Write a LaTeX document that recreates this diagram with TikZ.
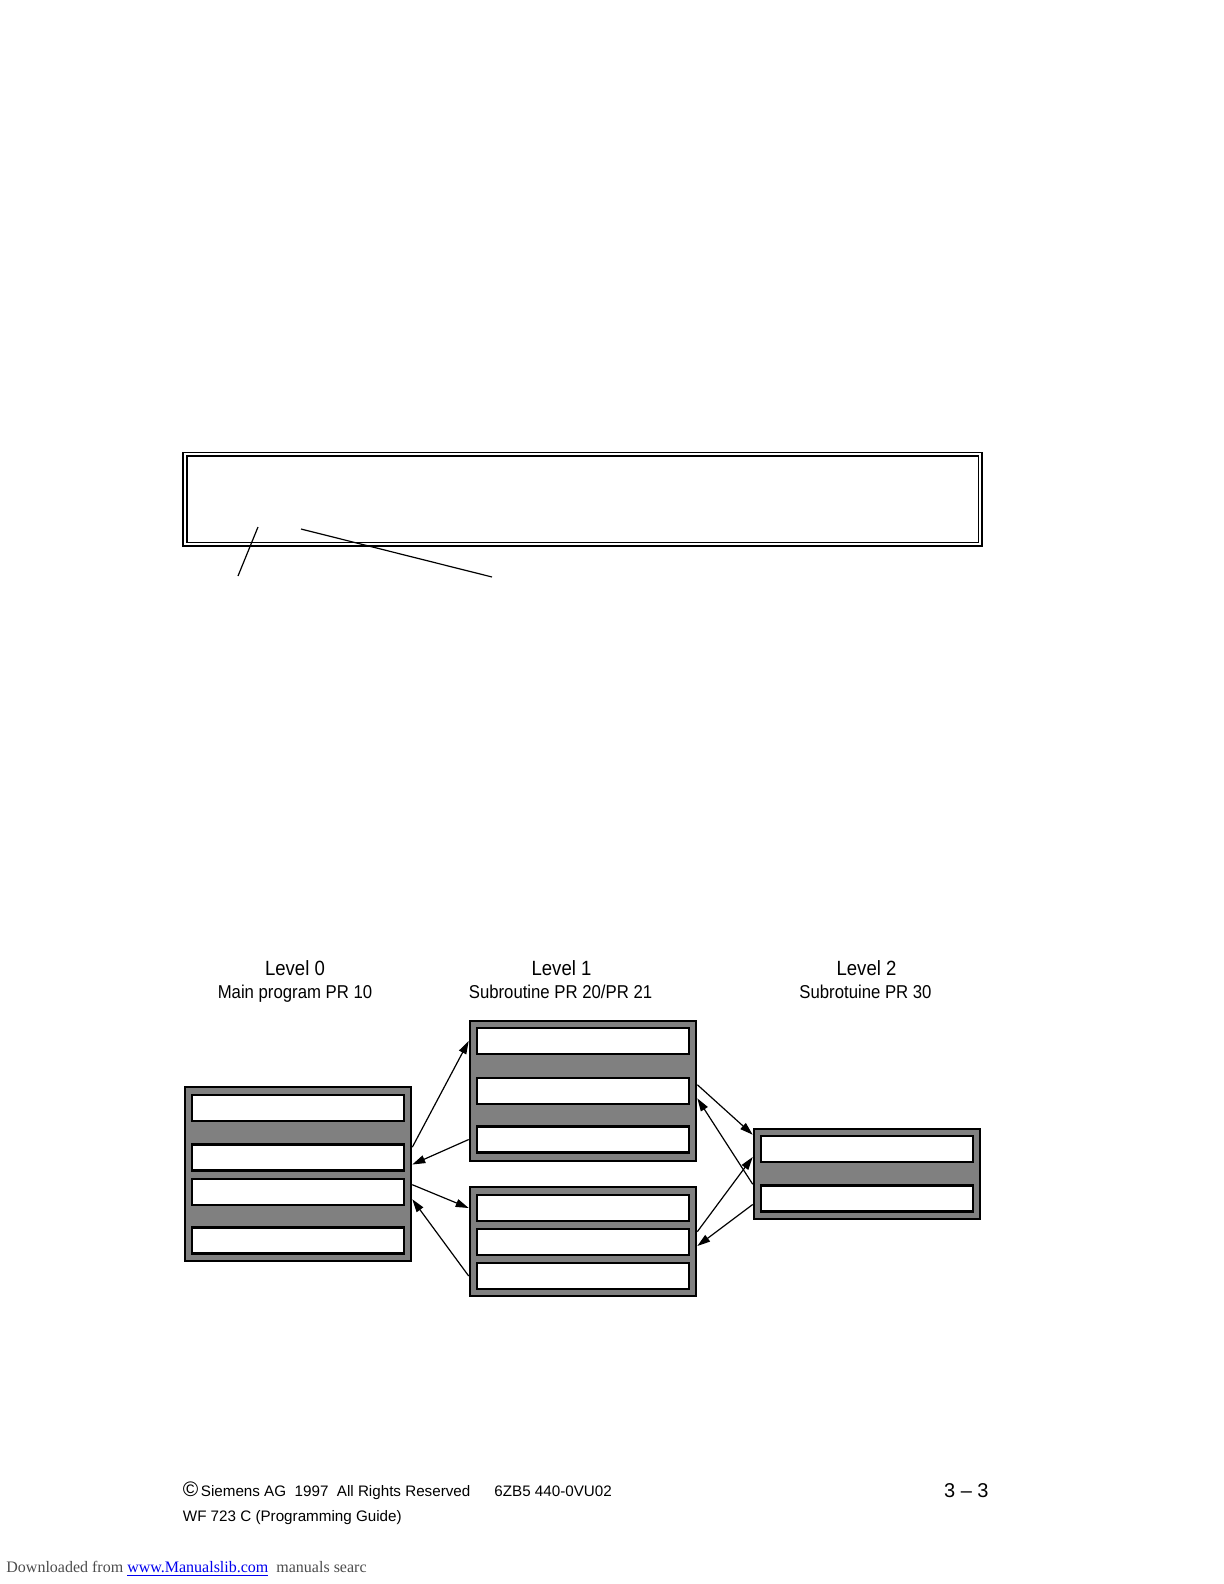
\documentclass[tikz,border=0pt]{standalone}
\usepackage{fontspec}
\setmainfont{Liberation Sans}
\newfontfamily\narrowsans[FakeStretch=0.9]{Liberation Sans}
\newfontfamily\dlserif{Liberation Serif}
\usetikzlibrary{arrows.meta,positioning,calc}
\definecolor{boxgray}{RGB}{128,128,128}
\definecolor{linkblue}{RGB}{0,0,238}
\tikzset{
  prgbox/.style={rectangle, draw=black, line width=1.3pt, fill=boxgray, minimum width=113pt, inner sep=0pt},
  prgline/.style={rectangle, draw=black, line width=1.3pt, fill=white, minimum width=106pt, minimum height=13pt, inner sep=0pt},
  callarrow/.style={-{Triangle[length=6.5pt,width=4pt]}, line width=0.6pt},
  levelhead/.style={anchor=base, inner sep=0pt, font=\narrowsans\fontsize{10.3}{12}\selectfont},
  levellabel/.style={anchor=base, inner sep=0pt, font=\narrowsans\fontsize{9.3}{11}\selectfont},
  foottext/.style={anchor=base west, inner sep=0pt, font=\fontsize{7.6}{9}\selectfont}
}

\begin{document}
\begin{tikzpicture}[x=0.5pt, y=-0.5pt]
    \useasboundingbox (0,0) rectangle (1224,1584);

    % Frame at the top
    \draw[line width=0.6pt] (183,452.5) rectangle (982,546);
    \draw[line width=0.6pt] (187,456) rectangle (978.5,542.5);
    \draw[line width=0.6pt] (258,527) -- (238,576);
    \draw[line width=0.6pt] (301,529) -- (492,577);

    % Level 0
    \node[levelhead] (lv0) at (295,975) {Level 0};
    \node[levellabel] (lv0txt) at (295,998) {Main program PR 10};
    \node[prgbox, minimum height=87pt] (m0) at (298,1174) {};
    \node[prgline] (m1) at (298,1108) {};
    \node[prgline] (m2) at (298,1157.5) {};
    \node[prgline] (m3) at (298,1192) {};
    \node[prgline] (m4) at (298,1240.5) {};

    % Level 1
    \node[levelhead] (lv1) at (561.5,975) {Level 1};
    \node[levellabel] (lv1txt) at (560.5,998) {Subroutine PR 20/PR 21};
    \node[prgbox, minimum height=70pt] (s1) at (583,1091) {};
    \node[prgline] (s1a) at (583,1041) {};
    \node[prgline] (s1b) at (583,1091) {};
    \node[prgline] (s1c) at (583,1139.5) {};
    \node[prgbox, minimum height=54.5pt] (s2) at (583,1241.5) {};
    \node[prgline] (s2a) at (583,1208) {};
    \node[prgline] (s2b) at (583,1242) {};
    \node[prgline] (s2c) at (583,1276) {};

    % Level 2
    \node[levelhead] (lv2) at (866.5,975) {Level 2};
    \node[levellabel] (lv2txt) at (865.5,998) {Subrotuine PR 30};
    \node[prgbox, minimum height=45pt] (s3) at (867,1174) {};
    \node[prgline] (s3a) at (867,1149) {};
    \node[prgline] (s3b) at (867,1198.5) {};

    % Calls and returns
    \draw[callarrow] ($(m0.east |- m2.north)+(0,4)$) -- (s1.west |- s1a.west);
    \draw[callarrow] (s1.west |- s1c.west) -- ($(m0.east |- m2.east)+(0,7)$);
    \draw[callarrow] ($(m0.east |- m3.north)+(0,7)$) -- (s2.west |- s2a.west);
    \draw[callarrow] (s2.west |- s2c.west) -- ($(m0.east |- m3.south)+(0,-7)$);
    \draw[callarrow] ($(s1.east |- s1b.north)+(0,8)$) -- (s3.west |- s3a.north);
    \draw[callarrow] (s3.west |- s3b.north) -- ($(s1.east |- s1b.south)+(0,-7)$);
    \draw[callarrow] ($(s2.east |- s2b.north)+(0,4)$) -- ($(s3.west |- s3a.east)+(0,8)$);
    \draw[callarrow] ($(s3.west |- s3b.east)+(0,6)$) -- ($(s2.east |- s2b.east)+(0,4)$);

    % Footer
    \node[foottext] (copy) at (182.5,1496.5) {{\fontsize{10.5}{12}\selectfont\textcopyright}\,Siemens AG\ \ 1997\ \ All Rights Reserved};
    \node[foottext] (order) at (494,1496.5) {6ZB5 440-0VU02};
    \node[foottext] (guide) at (182.5,1521.5) {WF 723 C (Programming Guide)};
    \node[anchor=base east, inner sep=0pt, font=\fontsize{10}{12}\selectfont] (page) at (989,1497) {3 -- 3};
    \node[anchor=base west, inner sep=0pt, font=\dlserif\fontsize{8}{10}\selectfont, text=black!70] (dl) at (6,1572)
        {Downloaded from \textcolor{linkblue}{\underline{www.Manualslib.com}}\ \ manuals searc};
\end{tikzpicture}
\end{document}
